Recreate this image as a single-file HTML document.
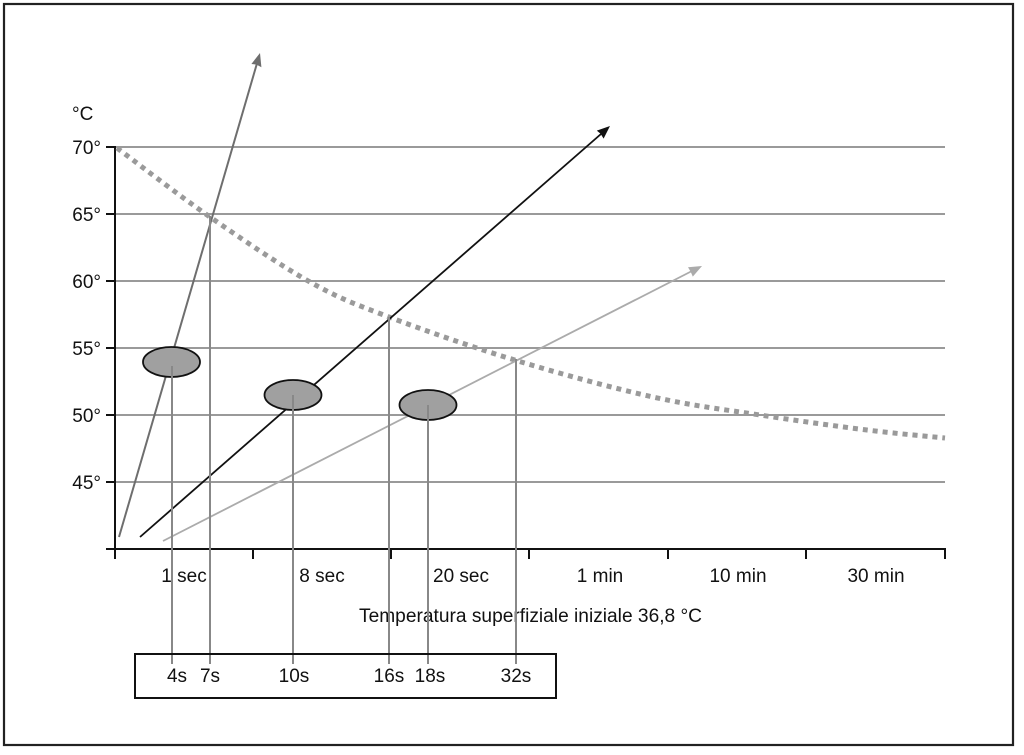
<!DOCTYPE html>
<html>
<head>
<meta charset="utf-8">
<style>
  html, body { margin:0; padding:0; background:#fff; }
  body { width:1024px; height:755px; overflow:hidden; }
  svg { display:block; }
  text { font-family: "Liberation Sans", Arial, sans-serif; font-size:19px; fill:#111; }
</style>
</head>
<body>
<svg width="1024" height="755" viewBox="0 0 1024 755" xmlns="http://www.w3.org/2000/svg">
  <rect x="0" y="0" width="1024" height="755" fill="#fff"/>
  <!-- outer frame -->
  <rect x="4" y="4" width="1009" height="741" fill="none" stroke="#222" stroke-width="2.2"/>

  <!-- gridlines -->
  <g stroke="#9a9a9a" stroke-width="2">
    <line x1="115" y1="147" x2="945" y2="147"/>
    <line x1="115" y1="214" x2="945" y2="214"/>
    <line x1="115" y1="281" x2="945" y2="281"/>
    <line x1="115" y1="348" x2="945" y2="348"/>
    <line x1="115" y1="415" x2="945" y2="415"/>
    <line x1="115" y1="482" x2="945" y2="482"/>
  </g>

  <!-- axes -->
  <g stroke="#111" stroke-width="2">
    <line x1="115" y1="146" x2="115" y2="559"/>
    <line x1="106" y1="549" x2="946" y2="549"/>
    <line x1="106" y1="147" x2="115" y2="147"/>
    <line x1="106" y1="214" x2="115" y2="214"/>
    <line x1="106" y1="281" x2="115" y2="281"/>
    <line x1="106" y1="348" x2="115" y2="348"/>
    <line x1="106" y1="415" x2="115" y2="415"/>
    <line x1="106" y1="482" x2="115" y2="482"/>
    <line x1="253" y1="549" x2="253" y2="559"/>
    <line x1="391" y1="549" x2="391" y2="559"/>
    <line x1="529" y1="549" x2="529" y2="559"/>
    <line x1="668" y1="549" x2="668" y2="559"/>
    <line x1="806" y1="549" x2="806" y2="559"/>
    <line x1="945" y1="549" x2="945" y2="559"/>
  </g>

  <!-- y labels -->
  <text x="72" y="120">°C</text>
  <g text-anchor="end">
    <text x="101" y="154">70°</text>
    <text x="101" y="221">65°</text>
    <text x="101" y="288">60°</text>
    <text x="101" y="355">55°</text>
    <text x="101" y="422">50°</text>
    <text x="101" y="489">45°</text>
  </g>

  <!-- x labels -->
  <g text-anchor="middle">
    <text x="184" y="582">1 sec</text>
    <text x="322" y="582">8 sec</text>
    <text x="461" y="582">20 sec</text>
    <text x="600" y="582">1 min</text>
    <text x="738" y="582">10 min</text>
    <text x="876" y="582">30 min</text>
  </g>
  <text x="359" y="622" textLength="343" lengthAdjust="spacingAndGlyphs">Temperatura superfiziale iniziale 36,8 °C</text>

  <!-- dotted curve -->
  <path d="M117,148 C132.5,159.5 177.8,194.7 210,217 C242.2,239.3 280.2,265.3 310,282 C339.8,298.7 354.3,303.8 389,317 C423.7,330.2 474,347.7 518,361 C562,374.3 612.7,388 653,397 C693.3,406 724.3,409.5 760,415 C795.7,420.5 836.2,426.2 867,430 C897.8,433.8 932,436.7 945,438"
        fill="none" stroke="#9a9a9a" stroke-width="5" stroke-dasharray="5 5"/>

  <!-- arrows -->
  <line x1="119" y1="537" x2="256.8" y2="64" stroke="#6e6e6e" stroke-width="2"/>
  <polygon points="260,53 261.4,67.2 256.6,64.6 251.4,64" fill="#6e6e6e"/>

  <line x1="140" y1="537" x2="601" y2="134" stroke="#111" stroke-width="1.8"/>
  <polygon points="610,126 603.6,138.6 600.6,133.8 596.8,130.6" fill="#111"/>

  <line x1="163" y1="541" x2="691" y2="271.5" stroke="#ababab" stroke-width="1.8"/>
  <polygon points="702,266 692.8,276.6 690.6,271.6 688,267.2" fill="#ababab"/>

  <!-- ellipses -->
  <g fill="#a0a0a0" stroke="#111" stroke-width="1.8">
    <ellipse cx="171.5" cy="362" rx="28.5" ry="15"/>
    <ellipse cx="293" cy="395" rx="28.5" ry="15"/>
    <ellipse cx="428" cy="405" rx="28.5" ry="15"/>
  </g>

  <!-- vertical drop lines -->
  <g stroke="#888" stroke-width="2">
    <line x1="172" y1="366" x2="172" y2="664"/>
    <line x1="210" y1="216" x2="210" y2="664"/>
    <line x1="293" y1="395" x2="293" y2="664"/>
    <line x1="389" y1="317" x2="389" y2="664"/>
    <line x1="428" y1="405" x2="428" y2="664"/>
    <line x1="516" y1="359" x2="516" y2="664"/>
  </g>

  <!-- bottom box -->
  <rect x="135" y="654" width="421" height="44" fill="none" stroke="#111" stroke-width="2"/>
  <g text-anchor="middle">
    <text x="177" y="682">4s</text>
    <text x="210" y="682">7s</text>
    <text x="294" y="682">10s</text>
    <text x="389" y="682">16s</text>
    <text x="430" y="682">18s</text>
    <text x="516" y="682">32s</text>
  </g>
</svg>
</body>
</html>
